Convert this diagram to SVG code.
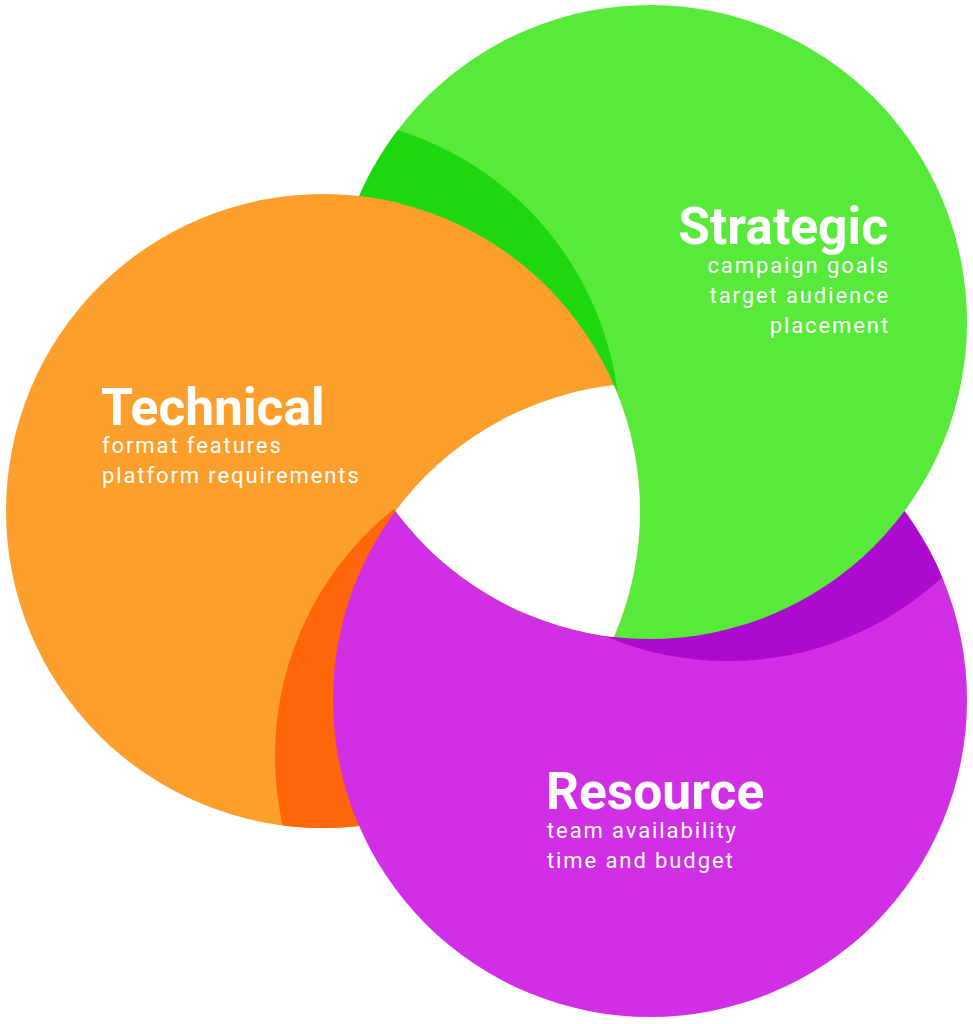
<svg xmlns="http://www.w3.org/2000/svg" width="973" height="1024" viewBox="0 0 973 1024">
<style>
.t{font-family:Roboto,"Liberation Sans",sans-serif;font-weight:700;font-size:51.5px;fill:#fff}
.s{font-family:Roboto,"Liberation Sans",sans-serif;font-weight:400;font-size:22px;fill:#fff;letter-spacing:1.9px}
</style>
<defs>
<clipPath id="cO"><circle cx="323" cy="511" r="317"/></clipPath>
<clipPath id="cG"><circle cx="650" cy="322" r="317"/></clipPath>
<clipPath id="cP"><circle cx="650" cy="700" r="317"/></clipPath>
<clipPath id="cGx"><circle cx="650" cy="322" r="319.5"/></clipPath>
<clipPath id="cLeft"><rect x="0" y="0" width="400" height="506"/></clipPath>
</defs>
<rect width="973" height="1024" fill="#fff"/>
<g id="technical">
<circle cx="323" cy="511" r="317" fill="#FD9F2D"/>
<circle cx="591" cy="756" r="316" fill="#FF6609" clip-path="url(#cO)"/>
</g>
<g id="resource">
<circle cx="650" cy="700" r="317" fill="#D02FE5"/>
<circle cx="728" cy="345" r="316" fill="#AC0BCF" clip-path="url(#cP)"/>
</g>
<g id="strategic">
<circle cx="650" cy="322" r="317" fill="#57EA3A"/>
<circle cx="304" cy="432" r="316" fill="#1ED70F" clip-path="url(#cG)"/>
</g>
<g id="overlaps">
<circle cx="323" cy="511" r="317" fill="#FD9F2D" clip-path="url(#cG)"/>
<g clip-path="url(#cLeft)"><circle cx="323" cy="511" r="317" fill="#FD9F2D" clip-path="url(#cGx)"/></g>
<g clip-path="url(#cG)"><circle cx="323" cy="511" r="317" fill="#fff" clip-path="url(#cP)"/></g>
</g>
<g id="labels">
<text class="t" x="888" y="244" text-anchor="end">Strategic</text>
<text class="s" x="890" y="273" text-anchor="end">campaign goals</text>
<text class="s" x="890" y="303" text-anchor="end">target audience</text>
<text class="s" x="890" y="333" text-anchor="end">placement</text>
<text class="t" x="101" y="425">Technical</text>
<text class="s" x="102" y="453">format features</text>
<text class="s" x="102" y="483">platform requirements</text>
<text class="t" x="546" y="809">Resource</text>
<text class="s" x="547" y="838">team availability</text>
<text class="s" x="547" y="868">time and budget</text>
</g>
</svg>
